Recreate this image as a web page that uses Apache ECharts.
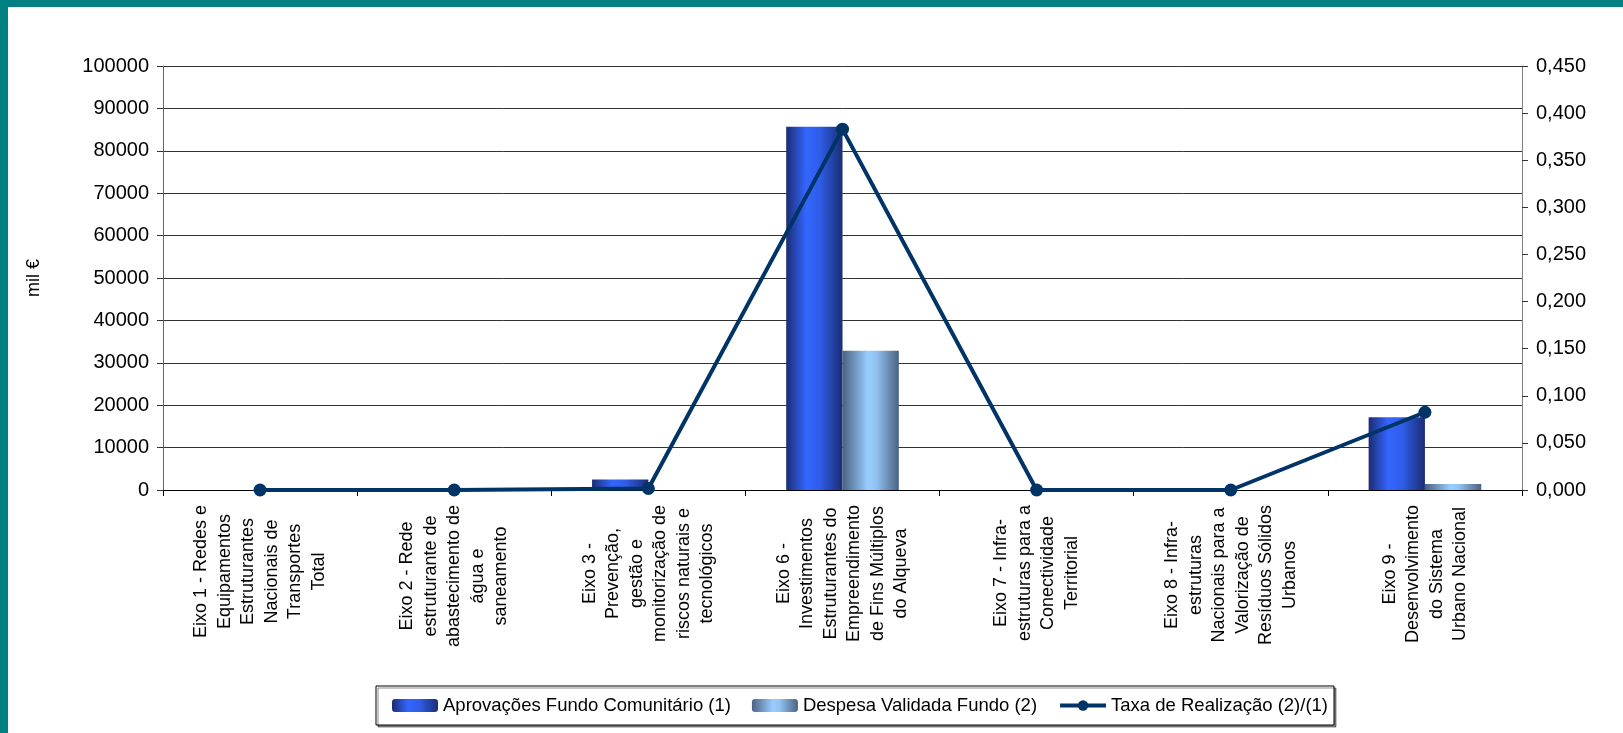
<!DOCTYPE html>
<html>
<head>
<meta charset="utf-8">
<script src="https://cdn.jsdelivr.net/npm/echarts@6/dist/echarts.min.js"></script>
<style>
  html, body { margin: 0; padding: 0; background: #fff; }
  #wrap { position: relative; width: 1623px; height: 733px; overflow: hidden; }
  #chart { position: absolute; left: 0; top: 0; width: 1623px; height: 733px; }
  .bt { position: absolute; left: 0; top: 0; width: 1623px; height: 7px; background: #008080; }
  .bl { position: absolute; left: 0; top: 0; width: 8px; height: 733px; background: #008080; }
</style>
</head>
<body>
<div id="wrap">
  <div id="chart"></div>
  <div class="bt"></div>
  <div class="bl"></div>
</div>
<script>
const categories = [
  "Eixo 1 - Redes e\nEquipamentos\nEstruturantes\nNacionais de\nTransportes\nTotal",
  "Eixo 2 - Rede\nestruturante de\nabastecimento de\nágua e\nsaneamento",
  "Eixo 3 -\nPrevenção,\ngestão e\nmonitorização de\nriscos naturais e\ntecnológicos",
  "Eixo 6 -\nInvestimentos\nEstruturantes do\nEmpreendimento\nde Fins Múltiplos\ndo Alqueva",
  "Eixo 7 - Infra-\nestruturas para a\nConectividade\nTerritorial",
  "Eixo 8 - Infra-\nestruturas\nNacionais para a\nValorização de\nResíduos Sólidos\nUrbanos",
  "Eixo 9 -\nDesenvolvimento\ndo Sistema\nUrbano Nacional"
];
const aprovacoes = [0, 0, 2500, 85700, 0, 0, 17150];
const despesa = [0, 0, 4, 32860, 0, 0, 1415];
const taxa = [0, 0, 0.0016, 0.383, 0, 0, 0.0825];

const seriesNames = ["Aprovações Fundo Comunitário (1)", "Despesa Validada Fundo (2)", "Taxa de Realização (2)/(1)"];
const leftTicks = { min: 0, max: 100000, interval: 10000 };
const rightTicks = { min: 0, max: 0.45, interval: 0.05 };

const FONT = "'Liberation Sans', Arial, sans-serif";
const CAT_FONT_SIZE = 18;

// measure longest line of each category label so lines can be centred within the block
const ctx = document.createElement('canvas').getContext('2d');
ctx.font = CAT_FONT_SIZE + "px 'Liberation Sans'";
const catRich = {};
categories.forEach(function (c, i) {
  let w = 0;
  c.split('\n').forEach(function (l) { w = Math.max(w, ctx.measureText(l).width); });
  catRich['r' + i] = { width: Math.ceil(w) + 1, align: 'center', fontSize: CAT_FONT_SIZE, lineHeight: 23.5, fontFamily: FONT, color: '#000' };
});

const chart = echarts.init(document.getElementById('chart'), null, { renderer: 'canvas' });

const gradA = new echarts.graphic.LinearGradient(0, 0, 1, 0, [
  { offset: 0, color: '#1b2c72' },
  { offset: 0.35, color: '#3366ff' },
  { offset: 0.6, color: '#2f5de8' },
  { offset: 1, color: '#1b2c72' }
]);
const gradD = new echarts.graphic.LinearGradient(0, 0, 1, 0, [
  { offset: 0, color: '#4a6282' },
  { offset: 0.45, color: '#99ccff' },
  { offset: 0.6, color: '#93c3f2' },
  { offset: 1, color: '#4a6282' }
]);

chart.setOption({
  animation: false,
  backgroundColor: '#ffffff',
  textStyle: { fontFamily: FONT, color: '#000' },
  grid: { left: 163, right: 101, top: 66, bottom: 243, containLabel: false },
  legend: {
    left: 376,
    top: 686,
    orient: 'horizontal',
    itemWidth: 46,
    itemHeight: 13,
    itemGap: 21,
    padding: [10, 6, 10, 16],
    borderColor: '#000',
    borderWidth: 1,
    backgroundColor: '#fff',
    shadowColor: 'rgba(0,0,0,0.45)',
    shadowOffsetX: 2,
    shadowOffsetY: 2,
    shadowBlur: 0,
    lineStyle: { width: 4 },
    textStyle: { fontSize: 18.5, fontFamily: FONT, color: '#000' },
    data: seriesNames
  },
  xAxis: {
    type: 'category',
    data: categories,
    boundaryGap: true,
    axisLine: { show: true, lineStyle: { color: '#000', width: 1 } },
    axisTick: { show: true, length: 6, lineStyle: { color: '#000' } },
    axisLabel: {
      interval: 0,
      rotate: 90,
      margin: 14,
      fontSize: CAT_FONT_SIZE,
      fontFamily: FONT,
      color: '#000',
      formatter: function (v, i) {
        return v.split('\n').map(function (l) { return '{r' + i + '|' + l + '}'; }).join('\n');
      },
      rich: catRich
    }
  },
  yAxis: [
    {
      type: 'value',
      min: leftTicks.min,
      max: leftTicks.max,
      interval: leftTicks.interval,
      position: 'left',
      name: 'mil €',
      nameLocation: 'middle',
      nameGap: 120,
      nameRotate: 90,
      nameTextStyle: { fontSize: 18, fontFamily: FONT, color: '#000' },
      axisLine: { show: true, lineStyle: { color: '#666', width: 1 } },
      axisTick: { show: true, length: 6, lineStyle: { color: '#333' } },
      axisLabel: {
        fontSize: 20, fontFamily: FONT, color: '#000', margin: 14,
        formatter: function (v) { return String(v); }
      },
      splitLine: { show: true, lineStyle: { color: '#333', width: 1 } }
    },
    {
      type: 'value',
      min: rightTicks.min,
      max: rightTicks.max,
      interval: rightTicks.interval,
      position: 'right',
      axisLine: { show: true, lineStyle: { color: '#808080', width: 1 } },
      axisTick: { show: true, length: 6, lineStyle: { color: '#333' } },
      axisLabel: {
        fontSize: 20, fontFamily: FONT, color: '#000', margin: 14,
        formatter: function (v) { return v.toFixed(3).replace('.', ','); }
      },
      splitLine: { show: false }
    }
  ],
  series: [
    {
      name: seriesNames[0],
      type: 'bar',
      yAxisIndex: 0,
      data: aprovacoes,
      barGap: '0%',
      barCategoryGap: '42%',
      itemStyle: { color: gradA }
    },
    {
      name: seriesNames[1],
      type: 'bar',
      yAxisIndex: 0,
      data: despesa,
      barGap: '0%',
      barCategoryGap: '42%',
      itemStyle: { color: gradD }
    },
    {
      name: seriesNames[2],
      type: 'line',
      yAxisIndex: 1,
      data: taxa,
      symbol: 'circle',
      symbolSize: 13,
      z: 5,
      lineStyle: { color: '#003366', width: 4 },
      itemStyle: { color: '#003366' }
    }
  ]
});
</script>
</body>
</html>
